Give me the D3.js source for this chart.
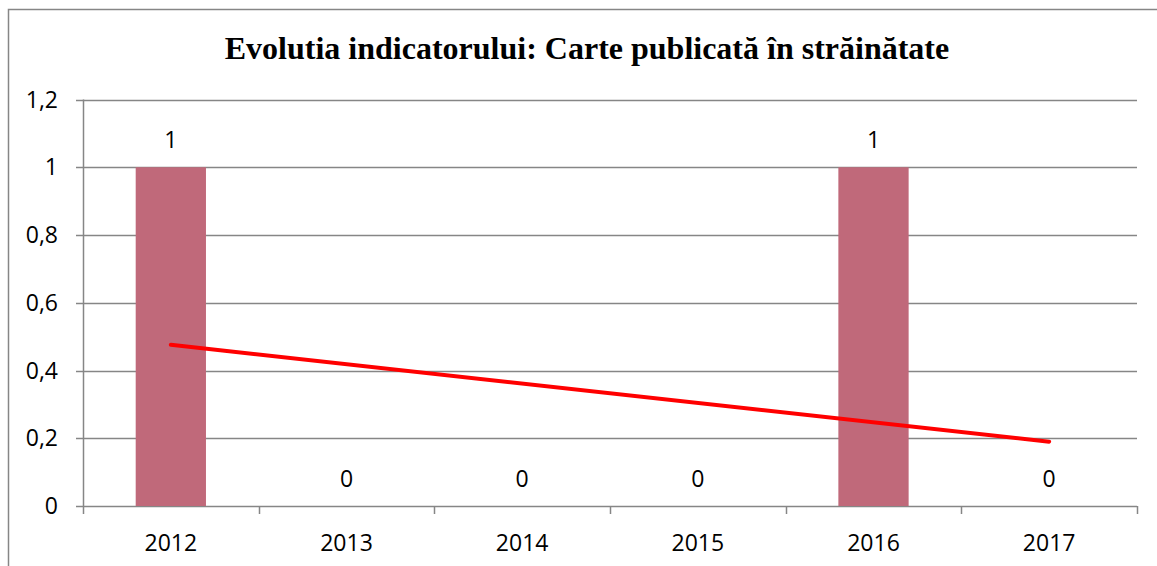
<!DOCTYPE html>
<html>
<head>
<meta charset="utf-8">
<script src="https://cdn.jsdelivr.net/npm/d3@7"></script>
<style>
  html, body { margin: 0; padding: 0; background: #fff; }
  svg { display: block; }
</style>
</head>
<body>
<div id="chartContainer"></div>
<script>
const years = ["2012", "2013", "2014", "2015", "2016", "2017"];
const values = [1, 0, 0, 0, 1, 0];
const yTicks = [0, 0.2, 0.4, 0.6, 0.8, 1, 1.2];
// linear trend line endpoints
const trendYears = ["2012", "2017"];
const trendValues = [0.476, 0.19];
const title = "Evolutia indicatorului: Carte publicată în străinătate";

document.addEventListener('DOMContentLoaded', () => {
  const width = 1157, height = 566;

  const svg = d3.select("#chartContainer")
    .append("svg")
    .attr("width", width)
    .attr("height", height);

  // outer frame
  svg.append("rect")
    .attr("x", 8.5).attr("y", 9.5)
    .attr("width", width).attr("height", height)
    .attr("fill", "none")
    .attr("stroke", "#868686")
    .attr("stroke-width", 1.5);

  svg.append("text")
    .attr("x", 587).attr("y", 59)
    .attr("text-anchor", "middle")
    .style("font-family", "'Liberation Serif', 'Times New Roman', serif")
    .style("font-weight", "bold")
    .style("font-size", "32px")
    .text(title);

  const x = d3.scaleBand()
    .domain(years)
    .range([83, 1137])
    .paddingInner(0.6)
    .paddingOuter(0.3);

  const y = d3.scaleLinear()
    .domain([0, 1.2])
    .range([506, 99.5]);

  const fmt = d => d3.format(".1~f")(d).replace(".", ",");
  const labelFont = "'Open Sans', 'Liberation Sans', sans-serif";
  const labelSize = "23px";

  // gridlines
  svg.append("g")
    .selectAll("line")
    .data(yTicks)
    .enter()
    .append("line")
    .attr("x1", 76).attr("x2", 1137)
    .attr("y1", d => Math.round(y(d)) + 0.5)
    .attr("y2", d => Math.round(y(d)) + 0.5)
    .attr("stroke", "#868686")
    .attr("stroke-width", 1.5);

  // y axis line
  svg.append("line")
    .attr("x1", 83.5).attr("x2", 83.5)
    .attr("y1", y(1.2)).attr("y2", y(0))
    .attr("stroke", "#868686")
    .attr("stroke-width", 1.5);

  // x category tick marks
  const boundaries = d3.range(years.length + 1).map(i => 83 + i * (1137 - 83) / years.length);
  svg.append("g")
    .selectAll("line")
    .data(boundaries)
    .enter()
    .append("line")
    .attr("x1", d => Math.round(d) + 0.5)
    .attr("x2", d => Math.round(d) + 0.5)
    .attr("y1", y(0)).attr("y2", y(0) + 8)
    .attr("stroke", "#868686")
    .attr("stroke-width", 1.5);

  // y tick labels
  svg.append("g")
    .selectAll("text")
    .data(yTicks)
    .enter()
    .append("text")
    .attr("x", 58)
    .attr("y", d => y(d))
    .attr("dy", "0.35em")
    .attr("text-anchor", "end")
    .style("font-family", labelFont)
    .style("font-size", labelSize)
    .text(fmt);

  // x labels
  svg.append("g")
    .selectAll("text")
    .data(years)
    .enter()
    .append("text")
    .attr("x", d => x(d) + x.bandwidth() / 2)
    .attr("y", 543)
    .attr("dy", "0.35em")
    .attr("text-anchor", "middle")
    .style("font-family", labelFont)
    .style("font-size", labelSize)
    .text(d => d);

  // bars
  svg.append("g")
    .selectAll("rect")
    .data(values)
    .enter()
    .append("rect")
    .attr("x", (d, i) => x(years[i]))
    .attr("y", d => y(d))
    .attr("width", x.bandwidth())
    .attr("height", d => y(0) - y(d))
    .attr("fill", "#C0697A");

  // data labels
  svg.append("g")
    .selectAll("text")
    .data(values)
    .enter()
    .append("text")
    .attr("x", (d, i) => x(years[i]) + x.bandwidth() / 2)
    .attr("y", d => y(d) - 27)
    .attr("dy", "0.35em")
    .attr("text-anchor", "middle")
    .style("font-family", labelFont)
    .style("font-size", labelSize)
    .text(d => d);

  // trend line
  const line = d3.line()
    .x((d, i) => x(trendYears[i]) + x.bandwidth() / 2)
    .y(d => y(d));
  svg.append("path")
    .datum(trendValues)
    .attr("d", line)
    .attr("fill", "none")
    .attr("stroke", "#FF0000")
    .attr("stroke-width", 4)
    .attr("stroke-linecap", "round");
});
</script>
</body>
</html>
